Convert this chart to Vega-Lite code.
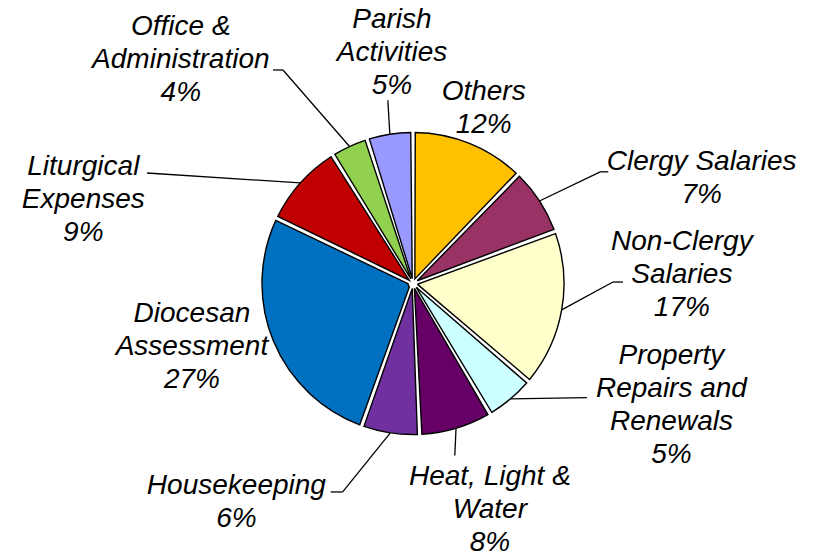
{
  "$schema": "https://vega.github.io/schema/vega-lite/v6.json",
  "width": 810,
  "height": 547,
  "autosize": {"type": "none"},
  "padding": {"left": 8, "top": 10, "right": 0, "bottom": 0},
  "background": "white",
  "config": {"view": {"stroke": null}},
  "data": {
    "values": [
      {"category": "Others", "value": 12.2, "label": "Others\n12%"},
      {"category": "Clergy Salaries", "value": 7.2, "label": "Clergy Salaries\n7%"},
      {"category": "Non-Clergy Salaries", "value": 16.8, "label": "Non-Clergy\nSalaries\n17%"},
      {"category": "Property Repairs and Renewals", "value": 5.3, "label": "Property\nRepairs and\nRenewals\n5%"},
      {"category": "Heat, Light & Water", "value": 7.8, "label": "Heat, Light &\nWater\n8%"},
      {"category": "Housekeeping", "value": 6.2, "label": "Housekeeping\n6%"},
      {"category": "Diocesan Assessment", "value": 26.6, "label": "Diocesan\nAssessment\n27%"},
      {"category": "Liturgical Expenses", "value": 9.0, "label": "Liturgical\nExpenses\n9%"},
      {"category": "Office & Administration", "value": 4.0, "label": "Office &\nAdministration\n4%"},
      {"category": "Parish Activities", "value": 4.9, "label": "Parish\nActivities\n5%"}
    ]
  },
  "transform": [
    {"window": [{"op": "row_number", "as": "idx"}]},
    {"window": [{"op": "sum", "field": "value", "as": "cum"}], "sort": [{"field": "idx"}], "frame": [null, 0]},
    {"calculate": "(datum.cum - datum.value / 2) / 100 * 2 * PI", "as": "mid"}
  ],
  "layer": [
    {
      "mark": {"type": "arc", "radius": 151, "innerRadius": 5, "stroke": "black", "strokeWidth": 1.4, "padAngle": 0.03},
      "encoding": {
        "theta": {"field": "value", "type": "quantitative", "stack": true},
        "order": {"field": "idx", "type": "quantitative"},
        "color": {
          "field": "category",
          "type": "nominal",
          "legend": null,
          "scale": {
            "domain": ["Others", "Clergy Salaries", "Non-Clergy Salaries", "Property Repairs and Renewals", "Heat, Light & Water", "Housekeeping", "Diocesan Assessment", "Liturgical Expenses", "Office & Administration", "Parish Activities"],
            "range": ["#FFC000", "#993366", "#FFFFCC", "#CCFFFF", "#660066", "#7030A0", "#0070C0", "#C00000", "#92D050", "#9999FF"]
          }
        }
      }
    },
    {
      "transform": [
        {"calculate": "[0,218,200,208,177,220,0,288,250,185][datum.idx-1]", "as": "er"},
        {"filter": "datum.er > 0"},
        {"calculate": "datum.mid + [0,2.3,-10.5,-16.6,2.9,10,0,-19.2,-6.5,1.0][datum.idx-1] * PI / 180", "as": "ea"},
        {"calculate": "151 * sin(datum.mid)", "as": "sx"},
        {"calculate": "151 * cos(datum.mid)", "as": "sy"},
        {"calculate": "datum.er * sin(datum.ea)", "as": "ex"},
        {"calculate": "datum.er * cos(datum.ea)", "as": "ey"}
      ],
      "mark": {"type": "rule", "stroke": "black", "strokeWidth": 1.3},
      "encoding": {
        "x": {"field": "sx", "type": "quantitative", "scale": {"domain": [-405, 405], "nice": false, "zero": false}, "axis": null},
        "y": {"field": "sy", "type": "quantitative", "scale": {"domain": [-273.5, 273.5], "nice": false, "zero": false}, "axis": null},
        "x2": {"field": "ex"},
        "y2": {"field": "ey"}
      }
    },
    {
      "transform": [
        {"calculate": "[0,218,200,208,177,220,0,288,250,185][datum.idx-1]", "as": "er"},
        {"calculate": "[0,8,10,0,0,-12,0,0,-10,0][datum.idx-1]", "as": "hook"},
        {"filter": "datum.hook != 0"},
        {"calculate": "datum.mid + [0,2.3,-10.5,-16.6,2.9,10,0,-19.2,-6.5,1.0][datum.idx-1] * PI / 180", "as": "ea"},
        {"calculate": "datum.er * sin(datum.ea)", "as": "ex"},
        {"calculate": "datum.er * cos(datum.ea)", "as": "ey"},
        {"calculate": "datum.ex + datum.hook", "as": "hx"}
      ],
      "mark": {"type": "rule", "stroke": "black", "strokeWidth": 1.3},
      "encoding": {
        "x": {"field": "ex", "type": "quantitative", "scale": {"domain": [-405, 405], "nice": false, "zero": false}, "axis": null},
        "y": {"field": "ey", "type": "quantitative", "scale": {"domain": [-273.5, 273.5], "nice": false, "zero": false}, "axis": null},
        "x2": {"field": "hx"},
        "y2": {"field": "ey"}
      }
    },
    {
      "transform": [
        {"calculate": "datum.mid + [0,13.2,-11.9,-24.5,-2.2,30.3,6.3,-27.6,-21.3,3.6][datum.idx-1] * PI / 180", "as": "la"},
        {"calculate": "[189,307,269,286,239,281,230,340,322,231][datum.idx-1]", "as": "lr"},
        {"calculate": "datum.lr * sin(datum.la)", "as": "lx"},
        {"calculate": "datum.lr * cos(datum.la) + (length(split(datum.label, '\\n')) - 1) * 16.5", "as": "ly"}
      ],
      "mark": {"type": "text", "align": "center", "baseline": "middle", "font": "Liberation Sans", "fontStyle": "italic", "fontSize": 28, "lineHeight": 33, "lineBreak": "\n", "color": "black"},
      "encoding": {
        "x": {"field": "lx", "type": "quantitative", "scale": {"domain": [-405, 405], "nice": false, "zero": false}, "axis": null},
        "y": {"field": "ly", "type": "quantitative", "scale": {"domain": [-273.5, 273.5], "nice": false, "zero": false}, "axis": null},
        "text": {"field": "label", "type": "nominal"}
      }
    }
  ]
}
